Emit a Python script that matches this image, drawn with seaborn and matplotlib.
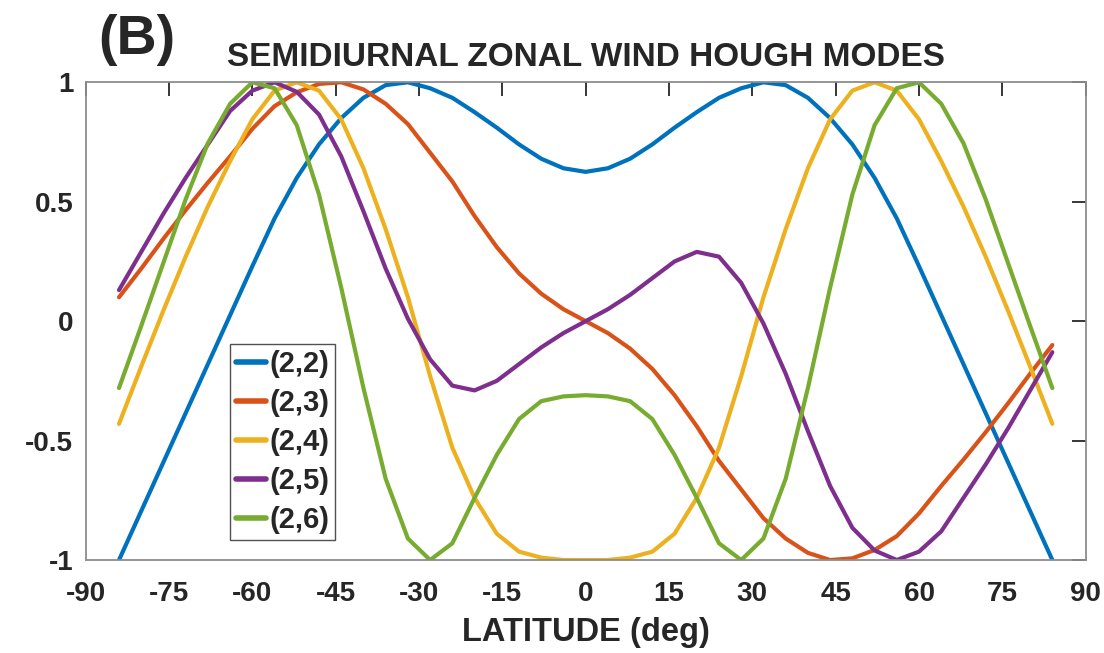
import numpy as np
import pandas as pd
import matplotlib
matplotlib.use("Agg")
import matplotlib.pyplot as plt
import seaborn as sns

lat = [-84, -80, -76, -72, -68, -64, -60, -56, -52, -48, -44, -40, -36, -32, -28, -24, -20, -16, -12, -8, -4,
       0, 4, 8, 12, 16, 20, 24, 28, 32, 36, 40, 44, 48, 52, 56, 60, 64, 68, 72, 76, 80, 84]

mode_22 = [-1.0, -0.795, -0.59, -0.385, -0.18, 0.025, 0.23, 0.43, 0.60, 0.74, 0.85, 0.935, 0.988, 1.0, 0.975,
           0.935, 0.875, 0.81, 0.74, 0.68, 0.64, 0.625, 0.64, 0.68, 0.74, 0.81, 0.875, 0.935, 0.975, 1.0, 0.988,
           0.935, 0.85, 0.74, 0.60, 0.43, 0.23, 0.025, -0.18, -0.385, -0.59, -0.795, -1.0]
mode_23 = [0.10, 0.22, 0.345, 0.465, 0.58, 0.69, 0.805, 0.90, 0.958, 0.993, 1.0, 0.97, 0.91, 0.825, 0.705,
           0.585, 0.44, 0.31, 0.20, 0.115, 0.05, 0.0, -0.05, -0.115, -0.20, -0.31, -0.44, -0.585, -0.705, -0.825,
           -0.91, -0.97, -1.0, -0.993, -0.958, -0.90, -0.805, -0.69, -0.58, -0.465, -0.345, -0.22, -0.10]
mode_24 = [-0.43, -0.19, 0.045, 0.27, 0.48, 0.67, 0.845, 0.965, 1.0, 0.965, 0.845, 0.64, 0.385, 0.10, -0.23,
           -0.53, -0.74, -0.89, -0.965, -0.99, -1.0, -1.0, -1.0, -0.99, -0.965, -0.89, -0.74, -0.53, -0.23, 0.10,
           0.385, 0.64, 0.845, 0.965, 1.0, 0.965, 0.845, 0.67, 0.48, 0.27, 0.045, -0.19, -0.43]
mode_25 = [0.13, 0.29, 0.45, 0.60, 0.74, 0.88, 0.965, 1.0, 0.96, 0.865, 0.69, 0.46, 0.22, 0.01, -0.16,
           -0.27, -0.29, -0.25, -0.18, -0.11, -0.05, 0.0, 0.05, 0.11, 0.18, 0.25, 0.29, 0.27, 0.16, -0.01,
           -0.22, -0.46, -0.69, -0.865, -0.96, -1.0, -0.965, -0.88, -0.74, -0.60, -0.45, -0.29, -0.13]
mode_26 = [-0.28, -0.02, 0.245, 0.51, 0.745, 0.91, 1.0, 0.975, 0.82, 0.53, 0.14, -0.28, -0.66, -0.91, -1.0,
           -0.93, -0.74, -0.56, -0.41, -0.335, -0.315, -0.31, -0.315, -0.335, -0.41, -0.56, -0.74, -0.93, -1.0,
           -0.91, -0.66, -0.28, 0.14, 0.53, 0.82, 0.975, 1.0, 0.91, 0.745, 0.51, 0.245, -0.02, -0.28]

labels = ["(2,2)", "(2,3)", "(2,4)", "(2,5)", "(2,6)"]
colors = ["#0072BD", "#D95319", "#EDB120", "#7E2F8E", "#77AC30"]
x_ticks = [-90, -75, -60, -45, -30, -15, 0, 15, 30, 45, 60, 75, 90]
y_ticks = [-1, -0.5, 0, 0.5, 1]
y_ticklabels = ["-1", "-0.5", "0", "0.5", "1"]

series = [mode_22, mode_23, mode_24, mode_25, mode_26]
df = pd.concat([pd.DataFrame({"lat": lat, "val": s, "mode": lab}) for s, lab in zip(series, labels)],
               ignore_index=True)

sns.set_style("white")
plt.rcParams["font.family"] = ["Liberation Sans", "DejaVu Sans"]
plt.rcParams["axes.unicode_minus"] = False

fig = plt.figure(figsize=(11.04, 6.53), dpi=100)
ax = fig.add_axes([0.0776, 0.1424, 0.9058, 0.7316])

sns.lineplot(data=df, x="lat", y="val", hue="mode", palette=colors, linewidth=3.0,
             ax=ax, sort=False, estimator=None, legend=True)

ax.set_xlim(-90, 90)
ax.set_ylim(-1, 1)
ax.set_xticks(x_ticks)
ax.set_xticklabels([str(t) for t in x_ticks])
ax.set_yticks(y_ticks)
ax.set_yticklabels(y_ticklabels)
for lbl in ax.get_xticklabels() + ax.get_yticklabels():
    lbl.set_fontweight("bold")
    lbl.set_fontsize(20)
ax.tick_params(direction="in", length=10, width=1.3, colors="#262626", top=True, right=True,
               labelsize=20)
ax.tick_params(axis="x", pad=15)
ax.tick_params(axis="y", pad=9)
for sp in ax.spines.values():
    sp.set_color("#8c8c8c")
    sp.set_linewidth(1.3)

ax.set_xlabel("")
ax.set_ylabel("")
fig.text(0.5306, 1 - 632 / 653, "LATITUDE (deg)", fontsize=23.5, fontweight="bold", ha="center", va="center")
fig.text(0.5306, 1 - 57 / 653, "SEMIDIURNAL ZONAL WIND HOUGH MODES", fontsize=24, fontweight="bold",
         ha="center", va="center")
fig.text(0.089, 1 - 40 / 653, "(B)", fontsize=40, fontweight="bold", ha="left", va="center")

handles, lbls = ax.get_legend_handles_labels()
leg = ax.legend(handles, lbls, loc="lower left", bbox_to_anchor=(0.144, 0.042),
                prop={"weight": "bold", "size": 21}, frameon=True, fancybox=False,
                handlelength=1.05, handletextpad=0.1, borderpad=0.2, labelspacing=0.38,
                borderaxespad=0)
leg.get_frame().set_edgecolor("#262626")
leg.get_frame().set_linewidth(1.0)
for ln in leg.get_lines():
    ln.set_linewidth(4.0)

fig.savefig("out.png", dpi=100)
